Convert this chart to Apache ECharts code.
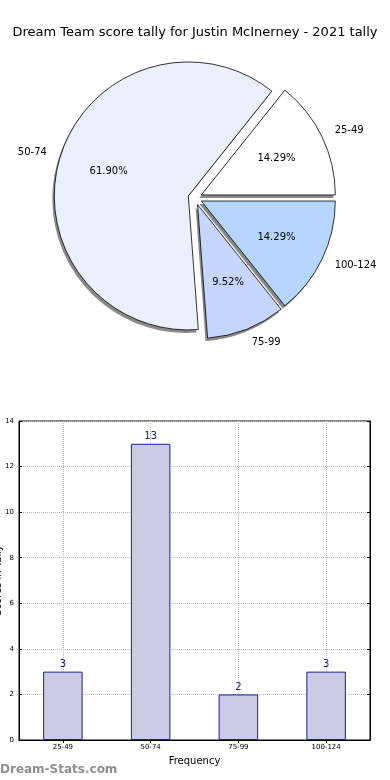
<!DOCTYPE html>
<html>
<head>
<meta charset="utf-8">
<script src="https://cdn.jsdelivr.net/npm/echarts@6/dist/echarts.min.js"></script>
<style>
html,body{margin:0;padding:0;background:#fff;}
#chart{width:390px;height:780px;}
</style>
</head>
<body>
<div id="chart"></div>
<script>
const titleText = 'Dream Team score tally for Justin McInerney - 2021 tally';
const categories = ['25-49', '50-74', '75-99', '100-124'];
const counts = [3, 13, 2, 3];
const pieColors = ['#ffffff', '#eaf0fe', '#c6d6ff', '#b4d6ff'];
const yTicks = { min: 0, max: 14, interval: 2 };
const xAxisName = 'Frequency';
const yAxisName = 'Scores in Tally';
const watermark = 'Dream-Stats.com';

const FONT = 'DejaVu Sans';
const R = 134;
const CENTER = [195, 198];
const OFFSET = 7;

const pieData = categories.map((c, i) => ({
  name: c, value: counts[i], selected: true,
  itemStyle: { color: pieColors[i] }
}));
const plainData = categories.map((c, i) => ({
  name: c, value: counts[i], selected: true
}));

const pieCommon = {
  type: 'pie', startAngle: 0, clockwise: false,
  selectedMode: 'multiple', selectedOffset: OFFSET,
  emphasis: { disabled: true }, silent: true
};

const chart = echarts.init(document.getElementById('chart'), null, { renderer: 'canvas' });
chart.setOption({
  animation: false,
  backgroundColor: '#fff',
  textStyle: { fontFamily: FONT },
  title: {
    text: titleText, left: 'center', top: 21,
    textStyle: { fontFamily: FONT, fontSize: 13, fontWeight: 'normal', color: '#000' }
  },
  graphic: [{
    type: 'text', left: 0, top: 764,
    style: { text: watermark, fill: '#8f8f8f', font: '600 12px "DejaVu Sans"' }
  }],
  grid: {
    left: 19, right: 20, top: 421, bottom: 40,
    outerBoundsMode: 'none', containLabel: false,
    show: true, borderColor: '#000', borderWidth: 1
  },
  xAxis: [{
    type: 'category', data: categories,
    name: xAxisName, nameLocation: 'middle', nameGap: 16,
    nameTextStyle: { fontFamily: FONT, fontSize: 10, color: '#000' },
    axisLine: { lineStyle: { color: '#000' } },
    axisTick: { show: true, alignWithLabel: true, inside: true, length: 3, lineStyle: { color: '#000' } },
    axisLabel: { fontFamily: FONT, fontSize: 7, color: '#000', margin: 4 },
    splitLine: { show: true, alignWithLabel: true, lineStyle: { color: '#bdbdbd', type: 'dotted', width: 1 } }
  }, {
    type: 'category', data: categories, position: 'top',
    axisLine: { show: true, lineStyle: { color: '#000' } },
    axisTick: { show: true, alignWithLabel: true, inside: true, length: 3, lineStyle: { color: '#000' } },
    axisLabel: { show: false }, splitLine: { show: false }
  }],
  yAxis: [{
    type: 'value', min: yTicks.min, max: yTicks.max, interval: yTicks.interval,
    name: yAxisName, nameLocation: 'middle', nameGap: 16, nameMoveOverlap: false,
    nameTextStyle: { fontFamily: FONT, fontSize: 10, color: '#000' },
    axisLine: { show: true, lineStyle: { color: '#000' } },
    axisTick: { show: true, inside: true, length: 3, lineStyle: { color: '#000' } },
    axisLabel: { fontFamily: FONT, fontSize: 7, color: '#000', margin: 5 },
    splitLine: { show: true, lineStyle: { color: '#bdbdbd', type: 'dotted', width: 1 } }
  }, {
    type: 'value', min: yTicks.min, max: yTicks.max, interval: yTicks.interval, position: 'right',
    axisLine: { show: true, lineStyle: { color: '#000' } },
    axisTick: { show: true, inside: true, length: 3, lineStyle: { color: '#000' } },
    axisLabel: { show: false }, splitLine: { show: false }
  }],
  series: [
    Object.assign({}, pieCommon, {
      center: [CENTER[0] - 2, CENTER[1] + 3], radius: R,
      data: plainData,
      itemStyle: { color: '#8a8a8a', borderWidth: 0 },
      label: { show: false }, labelLine: { show: false }
    }),
    Object.assign({}, pieCommon, {
      center: CENTER, radius: R,
      data: pieData,
      itemStyle: { borderColor: '#000', borderWidth: 0.8 },
      label: {
        show: true, position: 'outside', formatter: '{b}',
        fontFamily: FONT, fontSize: 10, color: '#000', distanceToLabelLine: 0
      },
      labelLine: { show: false, length: 14, length2: 0 }
    }),
    Object.assign({}, pieCommon, {
      center: CENTER, radius: [R * 0.2, R],
      data: plainData,
      itemStyle: { color: 'rgba(0,0,0,0)', borderWidth: 0 },
      label: {
        show: true, position: 'inside',
        formatter: p => p.percent.toFixed(2) + '%',
        fontFamily: FONT, fontSize: 10, color: '#000'
      },
      labelLine: { show: false }
    }),
    {
      type: 'bar', data: counts, barWidth: '45%', xAxisIndex: 0, yAxisIndex: 0,
      itemStyle: { color: '#cbcbe5', borderColor: '#1e1e96', borderWidth: 1 },
      label: { show: true, position: 'top', distance: 2, fontFamily: FONT, fontSize: 10, color: '#1e1e7a' },
      emphasis: { disabled: true }
    }
  ]
});
</script>
</body>
</html>
